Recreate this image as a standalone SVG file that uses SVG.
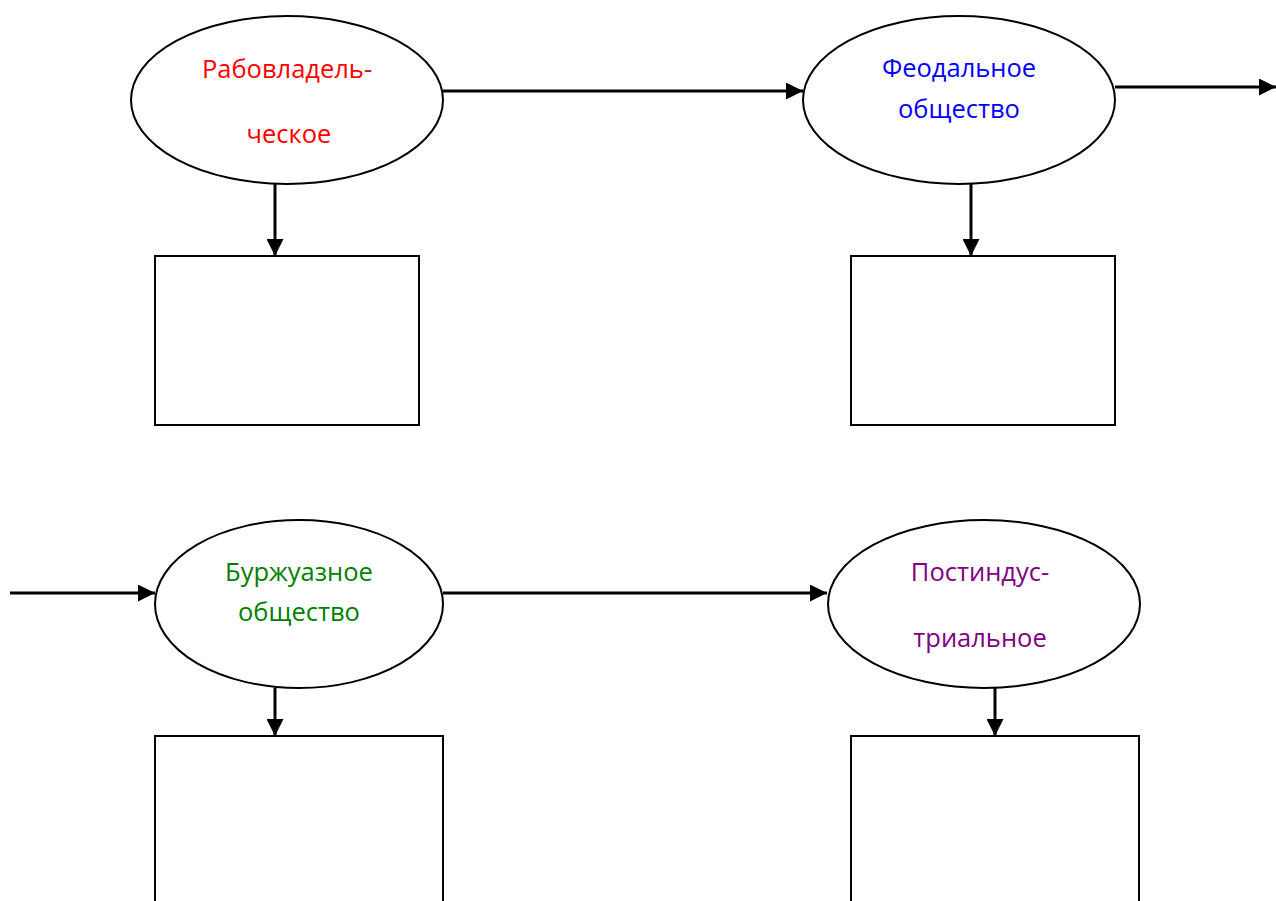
<svg xmlns="http://www.w3.org/2000/svg" width="1276" height="901" viewBox="0 0 1276 901">
<style>
.n{fill:#fff;stroke:#000;stroke-width:2}
.c{fill:none;stroke:#000;stroke-width:3}
.t{font-family:"Open Sans","Liberation Sans",sans-serif;font-size:25.5px;text-anchor:middle}
</style>
<defs>
<marker id="a" viewBox="0 0 17 17" refX="17" refY="8.5" markerWidth="17" markerHeight="17" markerUnits="userSpaceOnUse" orient="auto">
<path d="M0,0 L17,8.5 L0,17 Z" fill="#000"/>
</marker>
</defs>
<rect width="1276" height="901" fill="#fff"/>
<g id="connectors">
<line class="c" x1="443" y1="91" x2="803" y2="91" marker-end="url(#a)"/>
<line class="c" x1="1115" y1="87" x2="1276" y2="87" marker-end="url(#a)"/>
<line class="c" x1="10" y1="593" x2="155" y2="593" marker-end="url(#a)"/>
<line class="c" x1="443" y1="593" x2="827" y2="593" marker-end="url(#a)"/>
<line class="c" x1="275" y1="184" x2="275" y2="256" marker-end="url(#a)"/>
<line class="c" x1="971" y1="184" x2="971" y2="256" marker-end="url(#a)"/>
<line class="c" x1="275" y1="688" x2="275" y2="736" marker-end="url(#a)"/>
<line class="c" x1="995" y1="688" x2="995" y2="736" marker-end="url(#a)"/>
</g>
<g id="n1">
<ellipse class="n" cx="287" cy="100" rx="156" ry="84"/>
<text class="t" fill="#ff0000" x="287" y="78">Рабовладель-</text>
<text class="t" fill="#ff0000" x="289" y="143">ческое</text>
</g>
<g id="n2">
<ellipse class="n" cx="959" cy="100" rx="156" ry="84"/>
<text class="t" fill="#0000ff" x="959" y="77">Феодальное</text>
<text class="t" fill="#0000ff" x="959" y="118">общество</text>
</g>
<g id="n3">
<ellipse class="n" cx="299" cy="604" rx="144" ry="84"/>
<text class="t" fill="#008000" x="299" y="581">Буржуазное</text>
<text class="t" fill="#008000" x="299" y="621">общество</text>
</g>
<g id="n4">
<ellipse class="n" cx="984" cy="604" rx="156" ry="84"/>
<text class="t" fill="#800080" x="980" y="581">Постиндус-</text>
<text class="t" fill="#800080" x="980" y="647">триальное</text>
</g>
<g id="b1"><rect class="n" x="155" y="256" width="264" height="169"/></g>
<g id="b2"><rect class="n" x="851" y="256" width="264" height="169"/></g>
<g id="b3"><rect class="n" x="155" y="736" width="288" height="180"/></g>
<g id="b4"><rect class="n" x="851" y="736" width="288" height="180"/></g>
</svg>
